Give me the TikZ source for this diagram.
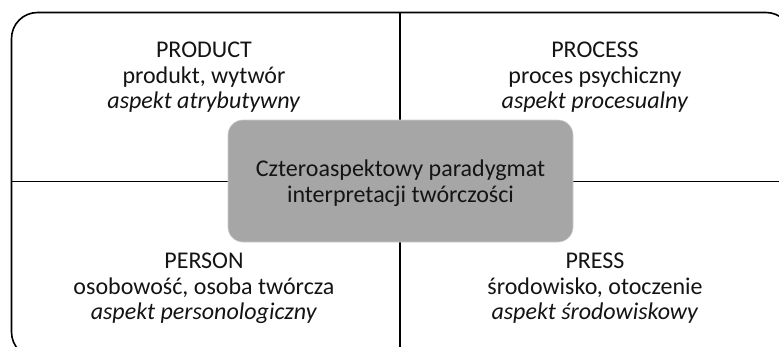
\documentclass[tikz,border=0pt]{standalone}
\usepackage{fontspec}
\setmainfont{Carlito}
\begin{document}
\begin{tikzpicture}[x=1pt,y=-1pt,
  frame/.style={draw=black,line width=1.6pt},
  divider/.style={draw=black,line width=1.8pt},
  centerbox/.style={fill=black!35,draw=black!20,line width=0.6pt,rounded corners=15pt},
  quad/.style={align=center,inner sep=0pt,anchor=north,text=black!92,font=\fontsize{24}{25.8}\selectfont}]
\useasboundingbox (0,0) rectangle (779,346);
\fill[white] (0,0) rectangle (779,346);
\begin{scope}
\clip (0,0) rectangle (779,346);
\draw[frame,rounded corners=26pt] (11.5,12.5) rectangle (792,358);
\coordinate (vtop) at (400,12.5);
\coordinate (vbot) at (400,350);
\coordinate (hleft) at (11.5,181.5);
\coordinate (hright) at (782,181.5);
\draw[divider] (vtop) -- (vbot);
\draw[divider] (hleft) -- (hright);
\end{scope}
\node[centerbox,minimum width=345pt,minimum height=122pt,inner sep=0pt] (core) at (400.5,181) {};
\node[quad] (coretext) at (400.5,160) {Czteroaspektowy paradygmat\\interpretacji twórczości};
\node[quad] (product) at (204,41.5) {PRODUCT\\produkt, wytwór\\\textit{aspekt atrybutywny}};
\node[quad] (process) at (595,41.5) {PROCESS\\proces psychiczny\\\textit{aspekt procesualny}};
\node[quad] (person) at (204,252.5) {PERSON\\osobowość, osoba twórcza\\\textit{aspekt personologiczny}};
\node[quad] (press) at (595,252.5) {PRESS\\środowisko, otoczenie\\\textit{aspekt środowiskowy}};
\end{tikzpicture}
\end{document}
